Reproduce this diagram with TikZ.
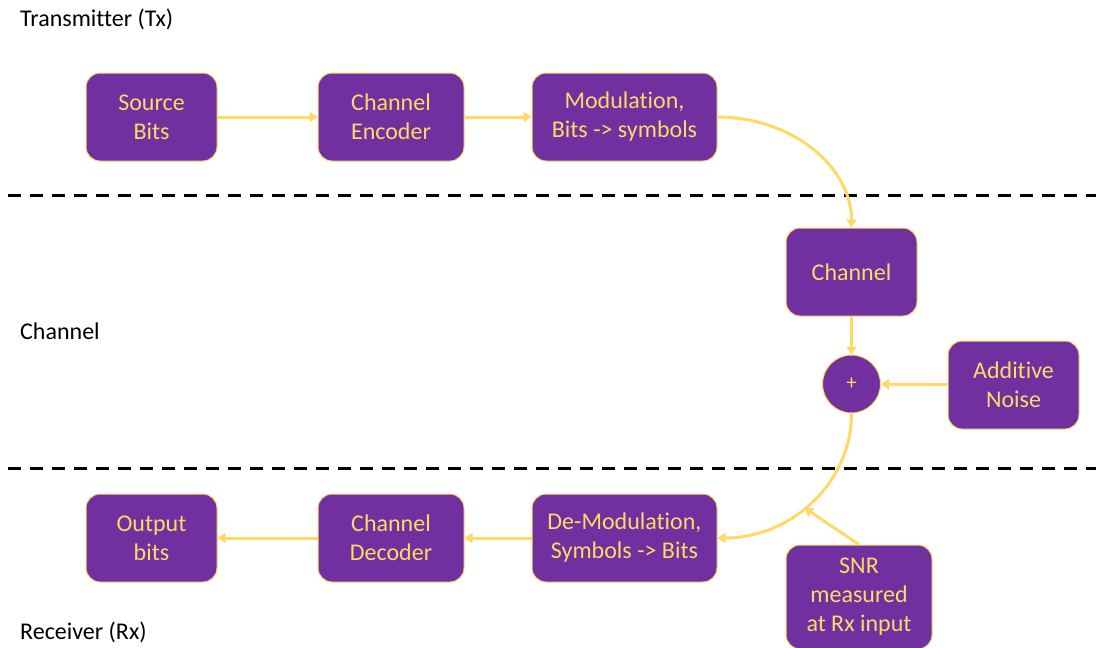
\documentclass[tikz,border=0pt]{standalone}
\usepackage{fontspec}
\setmainfont[RawFeature={-liga}]{Carlito}
\usetikzlibrary{arrows.meta}
\definecolor{boxpurple}{HTML}{7030A0}
\definecolor{linkyellow}{HTML}{FFD966}
\tikzset{
  block/.style={draw=linkyellow, line width=1pt, fill=boxpurple, rounded corners=14pt,
    text=linkyellow, align=center, minimum height=88pt, inner sep=2pt,
    font=\fontsize{24}{29}\selectfont},
  sumnode/.style={draw=linkyellow, line width=1pt, fill=boxpurple, circle, minimum size=58pt,
    text=linkyellow, inner sep=0pt, font=\fontsize{21}{24}\selectfont},
  link/.style={draw=linkyellow, line width=3pt, -{Triangle[length=8pt,width=10pt]}},
  divider/.style={draw=black, line width=3pt, dash pattern=on 13pt off 9pt},
  region/.style={anchor=base west, inner sep=0pt, font=\fontsize{24}{28}\selectfont}
}
\begin{document}
\begin{tikzpicture}[x=1pt,y=-1pt]
\useasboundingbox (0,0) rectangle (1096,648);
% region labels
\node[region] (txlabel) at (20,26) {Transmitter (Tx)};
\node[region] (chlabel) at (20,339) {Channel};
\node[region] (rxlabel) at (20,639) {Receiver (Rx)};
% dividers
\coordinate (d1a) at (8,195);
\coordinate (d1b) at (1096,195);
\coordinate (d2a) at (8,468);
\coordinate (d2b) at (1096,468);
\draw[divider] (d1a) -- (d1b);
\draw[divider] (d2a) -- (d2b);
% blocks
\node[block, minimum width=131pt] (src) at (151.5,117) {Source\\Bits};
\node[block, minimum width=146pt] (enc) at (391,117) {Channel\\Encoder};
\node[block, minimum width=185pt] (mod) at (624.5,117) {Modulation,\\Bits -> symbols};
\node[block, minimum width=131pt] (chan) at (851.5,272) {Channel};
\node[sumnode] (plus) at (851.5,384) {+};
\node[block, minimum width=131pt] (noise) at (1013.5,385) {Additive\\Noise};
\node[block, minimum width=131pt] (out) at (151.5,538) {Output\\bits};
\node[block, minimum width=146pt] (dec) at (391,538) {Channel\\Decoder};
\node[block, minimum width=185pt] (demod) at (624.5,538) {De-Modulation,\\Symbols -> Bits};
\node[block, minimum width=146pt, minimum height=104pt] (snr) at (859,597) {SNR\\measured\\at Rx input};
% connectors
\draw[link] (src) -- (enc);
\draw[link] (enc) -- (mod);
\draw[link] (mod.east) .. controls +(74,0) and +(0,-61) .. (chan.north);
\draw[link] (chan) -- (plus);
\draw[link] (noise) -- (plus);
\draw[link] (plus.south) .. controls +(0,69) and +(74,0) .. (demod.east)
  coordinate[pos=0.55] (snrtip);
\draw[link] (snr.north) -- (snrtip);
\draw[link] (demod) -- (dec);
\draw[link] (dec) -- (out);
\end{tikzpicture}
\end{document}
